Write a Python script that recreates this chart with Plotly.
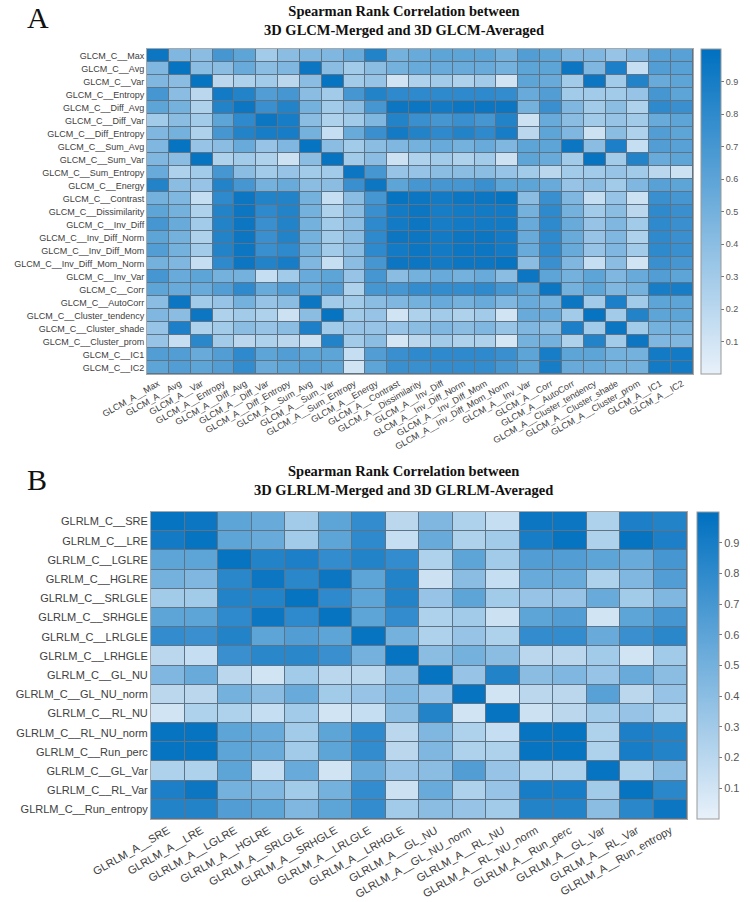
import plotly.graph_objects as go

glcm_feats = ["Max", "Avg", "Var", "Entropy", "Diff_Avg", "Diff_Var", "Diff_Entropy",
              "Sum_Avg", "Sum_Var", "Sum_Entropy", "Energy", "Contrast", "Dissimilarity",
              "Inv_Diff", "Inv_Diff_Norm", "Inv_Diff_Mom", "Inv_Diff_Mom_Norm", "Inv_Var",
              "Corr", "AutoCorr", "Cluster_tendency", "Cluster_shade", "Cluster_prom", "IC1", "IC2"]
glcm_rows = ["GLCM_C__" + f for f in glcm_feats]
glcm_cols = ["GLCM_A__" + f for f in glcm_feats]

glcm_corr = [
    [0.95, 0.45, 0.40, 0.70, 0.60, 0.30, 0.40, 0.45, 0.45, 0.55, 0.85, 0.50, 0.55, 0.60, 0.60, 0.60, 0.50, 0.65, 0.60, 0.45, 0.45, 0.35, 0.45, 0.62, 0.62],
    [0.45, 0.97, 0.40, 0.40, 0.55, 0.40, 0.45, 0.95, 0.40, 0.30, 0.40, 0.50, 0.55, 0.55, 0.55, 0.55, 0.50, 0.60, 0.60, 0.95, 0.45, 0.88, 0.15, 0.65, 0.62],
    [0.45, 0.40, 0.97, 0.20, 0.25, 0.30, 0.20, 0.40, 0.97, 0.30, 0.35, 0.10, 0.25, 0.30, 0.25, 0.30, 0.10, 0.60, 0.55, 0.30, 0.95, 0.30, 0.85, 0.55, 0.60],
    [0.70, 0.40, 0.20, 0.92, 0.85, 0.65, 0.70, 0.40, 0.30, 0.70, 0.85, 0.80, 0.80, 0.80, 0.80, 0.80, 0.78, 0.55, 0.65, 0.30, 0.30, 0.30, 0.35, 0.70, 0.60],
    [0.60, 0.50, 0.25, 0.85, 0.95, 0.75, 0.85, 0.50, 0.30, 0.40, 0.70, 0.95, 0.95, 0.92, 0.95, 0.95, 0.95, 0.50, 0.75, 0.45, 0.30, 0.40, 0.25, 0.80, 0.75],
    [0.30, 0.40, 0.30, 0.60, 0.80, 0.95, 0.90, 0.40, 0.25, 0.30, 0.45, 0.85, 0.75, 0.70, 0.75, 0.70, 0.85, 0.12, 0.55, 0.40, 0.30, 0.35, 0.30, 0.55, 0.60],
    [0.45, 0.50, 0.25, 0.70, 0.85, 0.90, 0.90, 0.50, 0.15, 0.55, 0.75, 0.92, 0.85, 0.80, 0.85, 0.80, 0.90, 0.20, 0.60, 0.45, 0.12, 0.40, 0.25, 0.65, 0.60],
    [0.45, 0.97, 0.35, 0.40, 0.55, 0.35, 0.45, 0.97, 0.40, 0.30, 0.40, 0.45, 0.50, 0.55, 0.50, 0.55, 0.45, 0.60, 0.60, 0.95, 0.40, 0.88, 0.15, 0.65, 0.62],
    [0.45, 0.40, 0.97, 0.25, 0.30, 0.25, 0.12, 0.40, 0.97, 0.30, 0.40, 0.12, 0.25, 0.30, 0.25, 0.30, 0.12, 0.60, 0.55, 0.30, 0.97, 0.30, 0.85, 0.55, 0.60],
    [0.55, 0.25, 0.30, 0.70, 0.40, 0.30, 0.35, 0.30, 0.30, 0.95, 0.70, 0.35, 0.35, 0.40, 0.40, 0.40, 0.35, 0.30, 0.20, 0.30, 0.30, 0.35, 0.30, 0.20, 0.12],
    [0.85, 0.40, 0.35, 0.85, 0.70, 0.50, 0.55, 0.40, 0.40, 0.75, 0.95, 0.60, 0.70, 0.70, 0.70, 0.75, 0.60, 0.60, 0.55, 0.35, 0.40, 0.30, 0.45, 0.62, 0.60],
    [0.50, 0.45, 0.15, 0.80, 0.95, 0.85, 0.85, 0.50, 0.15, 0.40, 0.70, 0.97, 0.95, 0.92, 0.95, 0.95, 0.97, 0.40, 0.75, 0.45, 0.15, 0.35, 0.12, 0.75, 0.70],
    [0.60, 0.50, 0.25, 0.85, 0.95, 0.80, 0.85, 0.50, 0.25, 0.40, 0.75, 0.92, 0.95, 0.90, 0.92, 0.92, 0.92, 0.50, 0.80, 0.50, 0.30, 0.40, 0.20, 0.80, 0.75],
    [0.70, 0.55, 0.30, 0.85, 0.95, 0.75, 0.85, 0.50, 0.30, 0.40, 0.80, 0.92, 0.95, 0.90, 0.92, 0.92, 0.92, 0.55, 0.80, 0.55, 0.35, 0.45, 0.30, 0.80, 0.75],
    [0.60, 0.50, 0.25, 0.85, 0.95, 0.75, 0.85, 0.50, 0.30, 0.40, 0.80, 0.95, 0.95, 0.92, 0.95, 0.95, 0.92, 0.55, 0.80, 0.55, 0.35, 0.45, 0.25, 0.80, 0.75],
    [0.65, 0.50, 0.30, 0.85, 0.95, 0.75, 0.80, 0.50, 0.30, 0.40, 0.80, 0.92, 0.95, 0.92, 0.95, 0.95, 0.92, 0.55, 0.80, 0.55, 0.35, 0.45, 0.30, 0.80, 0.75],
    [0.50, 0.45, 0.15, 0.80, 0.95, 0.85, 0.90, 0.45, 0.15, 0.40, 0.70, 0.95, 0.95, 0.92, 0.95, 0.95, 0.97, 0.40, 0.75, 0.45, 0.15, 0.40, 0.10, 0.75, 0.70],
    [0.70, 0.55, 0.60, 0.50, 0.50, 0.15, 0.30, 0.55, 0.60, 0.35, 0.70, 0.40, 0.50, 0.55, 0.50, 0.55, 0.40, 0.95, 0.60, 0.50, 0.60, 0.45, 0.55, 0.65, 0.60],
    [0.60, 0.55, 0.55, 0.65, 0.80, 0.55, 0.65, 0.55, 0.65, 0.25, 0.70, 0.70, 0.78, 0.78, 0.78, 0.80, 0.70, 0.60, 0.95, 0.50, 0.60, 0.45, 0.50, 0.90, 0.90],
    [0.40, 0.95, 0.30, 0.35, 0.50, 0.35, 0.40, 0.95, 0.30, 0.30, 0.40, 0.45, 0.50, 0.55, 0.50, 0.55, 0.45, 0.55, 0.50, 0.95, 0.30, 0.88, 0.30, 0.60, 0.60],
    [0.45, 0.40, 0.95, 0.25, 0.30, 0.25, 0.12, 0.40, 0.97, 0.30, 0.35, 0.10, 0.25, 0.30, 0.25, 0.30, 0.10, 0.55, 0.55, 0.30, 0.97, 0.30, 0.85, 0.60, 0.60],
    [0.35, 0.88, 0.25, 0.30, 0.40, 0.35, 0.40, 0.88, 0.30, 0.35, 0.35, 0.35, 0.40, 0.45, 0.40, 0.45, 0.35, 0.45, 0.40, 0.88, 0.30, 0.95, 0.30, 0.50, 0.50],
    [0.35, 0.15, 0.82, 0.30, 0.20, 0.25, 0.20, 0.12, 0.85, 0.30, 0.40, 0.08, 0.20, 0.30, 0.25, 0.25, 0.08, 0.50, 0.50, 0.25, 0.85, 0.30, 0.95, 0.45, 0.45],
    [0.65, 0.65, 0.55, 0.65, 0.80, 0.60, 0.65, 0.60, 0.60, 0.15, 0.65, 0.75, 0.80, 0.80, 0.80, 0.80, 0.75, 0.60, 0.90, 0.60, 0.60, 0.50, 0.50, 0.92, 0.92],
    [0.60, 0.65, 0.60, 0.65, 0.78, 0.55, 0.60, 0.65, 0.60, 0.10, 0.60, 0.75, 0.75, 0.78, 0.78, 0.78, 0.70, 0.60, 0.90, 0.55, 0.55, 0.50, 0.50, 0.92, 0.92],
]

glrlm_feats = ["SRE", "LRE", "LGLRE", "HGLRE", "SRLGLE", "SRHGLE", "LRLGLE", "LRHGLE",
               "GL_NU", "GL_NU_norm", "RL_NU", "RL_NU_norm", "Run_perc", "GL_Var", "RL_Var", "Run_entropy"]
glrlm_rows = ["GLRLM_C__" + f for f in glrlm_feats]
glrlm_cols = ["GLRLM_A__" + f for f in glrlm_feats]

glrlm_corr = [
    [0.97, 0.95, 0.60, 0.55, 0.30, 0.60, 0.78, 0.20, 0.45, 0.25, 0.15, 0.95, 0.95, 0.25, 0.88, 0.85],
    [0.92, 0.97, 0.60, 0.55, 0.30, 0.60, 0.80, 0.15, 0.55, 0.25, 0.30, 0.90, 0.97, 0.25, 0.97, 0.88],
    [0.60, 0.60, 0.97, 0.85, 0.88, 0.78, 0.85, 0.78, 0.25, 0.60, 0.30, 0.65, 0.65, 0.60, 0.55, 0.70],
    [0.50, 0.45, 0.82, 0.95, 0.82, 0.95, 0.60, 0.85, 0.12, 0.40, 0.15, 0.55, 0.55, 0.25, 0.45, 0.65],
    [0.30, 0.30, 0.85, 0.85, 0.97, 0.80, 0.60, 0.85, 0.35, 0.60, 0.30, 0.35, 0.35, 0.55, 0.30, 0.45],
    [0.60, 0.60, 0.80, 0.95, 0.80, 0.97, 0.60, 0.78, 0.25, 0.30, 0.12, 0.60, 0.65, 0.10, 0.60, 0.70],
    [0.78, 0.75, 0.85, 0.60, 0.65, 0.60, 0.97, 0.50, 0.25, 0.35, 0.25, 0.78, 0.78, 0.55, 0.75, 0.82],
    [0.20, 0.15, 0.75, 0.82, 0.82, 0.75, 0.50, 0.97, 0.40, 0.50, 0.40, 0.20, 0.20, 0.30, 0.10, 0.30],
    [0.45, 0.55, 0.20, 0.10, 0.30, 0.20, 0.20, 0.40, 0.97, 0.35, 0.85, 0.40, 0.45, 0.35, 0.55, 0.40],
    [0.20, 0.20, 0.50, 0.40, 0.55, 0.30, 0.35, 0.45, 0.35, 0.97, 0.10, 0.20, 0.20, 0.62, 0.20, 0.35],
    [0.10, 0.25, 0.25, 0.15, 0.30, 0.10, 0.15, 0.40, 0.85, 0.10, 0.97, 0.12, 0.20, 0.30, 0.35, 0.25],
    [0.97, 0.97, 0.60, 0.55, 0.30, 0.60, 0.80, 0.20, 0.45, 0.25, 0.15, 0.97, 0.97, 0.25, 0.88, 0.85],
    [0.97, 0.97, 0.60, 0.55, 0.30, 0.60, 0.78, 0.20, 0.45, 0.25, 0.25, 0.97, 0.97, 0.25, 0.90, 0.85],
    [0.25, 0.25, 0.60, 0.15, 0.55, 0.10, 0.55, 0.35, 0.40, 0.65, 0.35, 0.25, 0.25, 0.97, 0.25, 0.40],
    [0.88, 0.95, 0.50, 0.45, 0.30, 0.50, 0.78, 0.12, 0.55, 0.25, 0.35, 0.90, 0.90, 0.30, 0.97, 0.82],
    [0.85, 0.85, 0.65, 0.60, 0.45, 0.60, 0.78, 0.30, 0.40, 0.35, 0.30, 0.85, 0.85, 0.40, 0.82, 0.95],
]

cbar_ticks = [0.1, 0.2, 0.3, 0.4, 0.5, 0.6, 0.7, 0.8, 0.9]

W, H = 750, 902
def px(x):
    return x / W
def py(y):
    return 1 - y / H

blues = [[0.0, "#E8F1FA"], [1.0, "#0070C0"]]
tickfont_a = dict(family="Liberation Sans, Arial, sans-serif", size=9, color="#404040")
tickfont_b = dict(family="Liberation Sans, Arial, sans-serif", size=11, color="#404040")

fig = go.Figure()
fig.add_trace(go.Heatmap(
    z=glcm_corr, x=glcm_cols, y=glcm_rows, xaxis="x", yaxis="y",
    colorscale=blues, zmin=0.0, zmax=1.0, xgap=1, ygap=1,
    colorbar=dict(x=px(701), xanchor="left", y=py(49), yanchor="top",
                  lenmode="pixels", len=325, thickness=20, thicknessmode="pixels",
                  outlinecolor="#9a9a9a", outlinewidth=1, xpad=0, ypad=0,
                  tickvals=cbar_ticks, ticks="outside", ticklen=3, tickcolor="#777777",
                  tickfont=dict(family="Liberation Sans, Arial, sans-serif", size=9, color="#555555")),
))
fig.add_trace(go.Heatmap(
    z=glrlm_corr, x=glrlm_cols, y=glrlm_rows, xaxis="x2", yaxis="y2",
    colorscale=blues, zmin=0.0, zmax=1.0, xgap=1, ygap=1,
    colorbar=dict(x=px(697), xanchor="left", y=py(512), yanchor="top",
                  lenmode="pixels", len=307, thickness=22, thicknessmode="pixels",
                  outlinecolor="#9a9a9a", outlinewidth=1, xpad=0, ypad=0,
                  tickvals=cbar_ticks, ticks="outside", ticklen=3, tickcolor="#777777",
                  tickfont=dict(family="Liberation Sans, Arial, sans-serif", size=11, color="#555555")),
))

axis_common = dict(showgrid=False, zeroline=False, showline=True, mirror=True,
                   linecolor="#a8a8a8", linewidth=1, ticks="", automargin=False)
fig.update_layout(
    width=W, height=H, autosize=False,
    margin=dict(l=0, r=0, t=0, b=0, autoexpand=False),
    paper_bgcolor="white", plot_bgcolor="#5f7387",
    xaxis=dict(domain=[px(147), px(693)], anchor="y", tickangle=-30, tickfont=tickfont_a, **axis_common),
    yaxis=dict(domain=[py(374), py(49)], anchor="x", autorange="reversed", tickfont=tickfont_a, **axis_common),
    xaxis2=dict(domain=[px(151), px(687)], anchor="y2", tickangle=-30, tickfont=tickfont_b, **axis_common),
    yaxis2=dict(domain=[py(819), py(512)], anchor="x2", autorange="reversed", tickfont=tickfont_b, **axis_common),
)

title_font = dict(family="Liberation Serif, Times New Roman, serif", size=14.5, color="#111111")
fig.add_annotation(text="<b>Spearman Rank Correlation between<br>3D GLCM-Merged and 3D GLCM-Averaged</b>",
                   x=px(404), y=py(20), xref="paper", yref="paper", showarrow=False,
                   font=title_font, align="center", xanchor="center", yanchor="middle")
fig.add_annotation(text="<b>Spearman Rank Correlation between<br>3D GLRLM-Merged and 3D GLRLM-Averaged</b>",
                   x=px(404), y=py(481), xref="paper", yref="paper", showarrow=False,
                   font=title_font, align="center", xanchor="center", yanchor="middle")
panel_font = dict(family="Liberation Serif, Times New Roman, serif", size=30, color="#111111")
fig.add_annotation(text="A", x=px(38), y=py(18), xref="paper", yref="paper", showarrow=False,
                   font=panel_font, xanchor="center", yanchor="middle")
fig.add_annotation(text="B", x=px(37), y=py(480), xref="paper", yref="paper", showarrow=False,
                   font=panel_font, xanchor="center", yanchor="middle")

# remove the browser's default 8px body margin so the 750x902 figure fills the window exactly
fig.write_html("out.html",
               config={"displayModeBar": False},
               post_script="document.body.style.margin='0';document.documentElement.style.overflow='hidden';")
